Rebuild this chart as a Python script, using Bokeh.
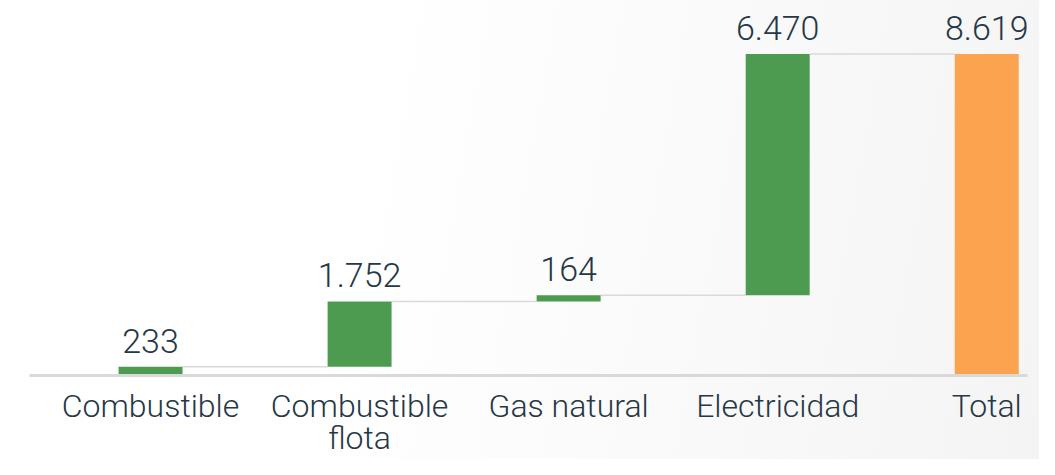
from bokeh.plotting import figure
from bokeh.models import Range1d, FixedTicker, ColumnDataSource
from bokeh.core.properties import value
from bokeh.embed import file_html
from bokeh.resources import INLINE

categories = ["Combustible", "Combustible\nflota", "Gas natural", "Electricidad", "Total"]
values = [233, 1752, 164, 6470, 8619]
colors = ["#4c9b50", "#4c9b50", "#4c9b50", "#4c9b50", "#fba34e"]

idx = list(range(len(categories)))
bottoms, tops = [], []
running = 0
for i, v in enumerate(values):
    if i == len(values) - 1:
        bottoms.append(0)
        tops.append(v)
    else:
        bottoms.append(running)
        running += v
        tops.append(running)
labels = [f"{v:,}".replace(",", ".") for v in values]

BW = 0.306
src = ColumnDataSource(dict(x=idx, bottom=bottoms, top=tops, color=colors, label=labels))
conn = ColumnDataSource(dict(x0=[i + BW / 2 for i in idx[:-1]], x1=[i + 1 - BW / 2 for i in idx[:-1]], y=tops[:-1]))

FONT = "'Roboto Light', Roboto"
TXT = "#263746"

p = figure(width=1039, height=459, x_range=Range1d(-0.579, 4.195), y_range=Range1d(0, 10000),
           output_backend="svg", toolbar_location=None,
           min_border_left=29, min_border_right=12, min_border_top=2, min_border_bottom=70)
p.background_fill_color = None
p.border_fill_color = None
p.outline_line_color = None
p.styles = {"background": "linear-gradient(100deg, #ffffff 0%, #ffffff 35%, #f4f4f4 100%)"}
p.grid.visible = False
p.yaxis.visible = False

p.segment(x0="x0", y0="y", x1="x1", y1="y", source=conn, line_color="#dadada", line_width=1.5)
p.vbar(x="x", bottom="bottom", top="top", width=BW, fill_color="color", line_color=None, source=src)
p.text(x="x", y="top", text="label", source=src, y_offset=-14, text_align="center", text_baseline="bottom",
       text_font=value(FONT), text_font_size="34px", text_color=TXT)

ax = p.xaxis[0]
ax.ticker = FixedTicker(ticks=idx)
ax.major_label_overrides = {i: c for i, c in zip(idx, categories)}
ax.axis_line_color = "#d9d9d9"
ax.axis_line_width = 3
ax.major_tick_line_color = None
ax.minor_tick_line_color = None
ax.major_tick_in = 0
ax.major_tick_out = 0
ax.major_label_text_font = FONT
ax.major_label_text_font_size = "32px"
ax.major_label_text_line_height = 0.85
ax.major_label_text_color = TXT
ax.major_label_standoff = 11

open("out.html", "w").write(file_html(p, INLINE))
